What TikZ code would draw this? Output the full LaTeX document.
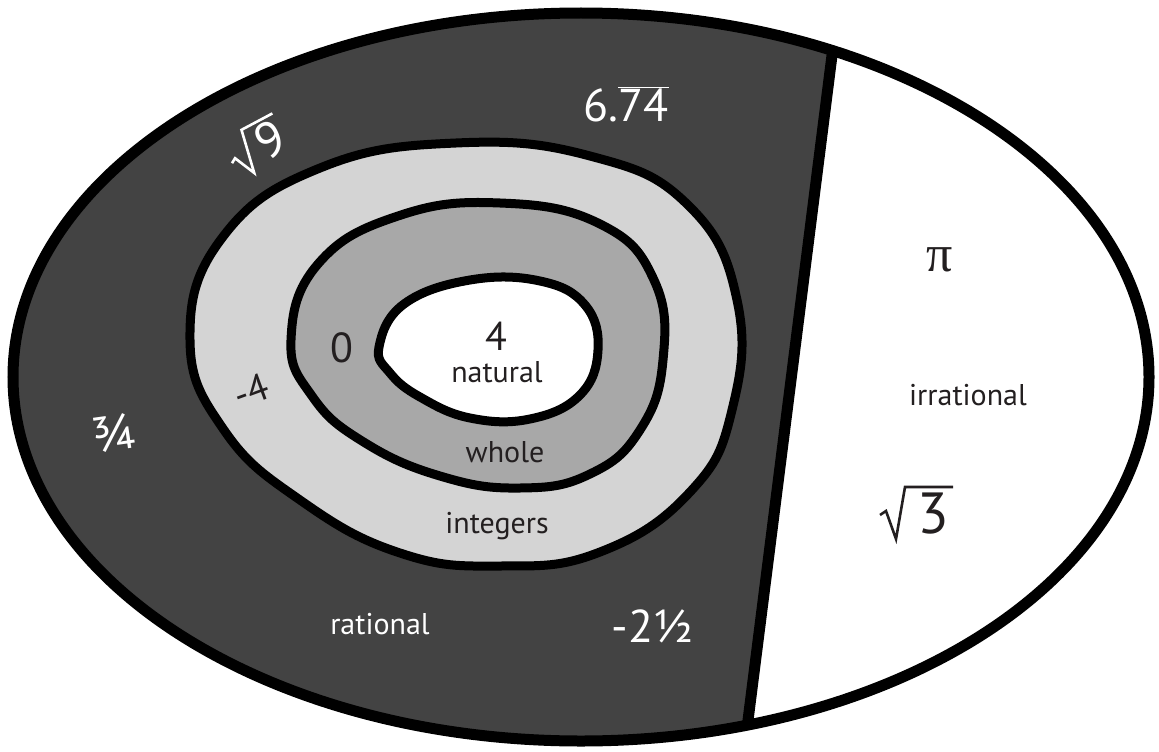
\documentclass[tikz,border=0pt]{standalone}
\usepackage{fontspec}
\setmainfont{PT Sans}
\newfontfamily\pifont{Liberation Serif}
\definecolor{darkfill}{RGB}{67,67,67}
\definecolor{lightfill}{RGB}{212,212,212}
\definecolor{midfill}{RGB}{168,168,168}
\definecolor{ink}{RGB}{35,31,32}
\tikzset{
  ring/.style={draw=black, line width=9pt},
  wlabel/.style={text=white, inner sep=0pt},
  blabel/.style={text=ink, inner sep=0pt},
  radical/.style={line width=2.6pt, line join=miter},
}
\begin{document}
\begin{tikzpicture}[x=1pt,y=-1pt]
\useasboundingbox (0,0) rectangle (1159,752);
\fill[white] (0,0) rectangle (1159,752);
\coordinate (c) at (581,377);
\coordinate (dtop) at (839,0);
\coordinate (dbot) at (744,752);
\begin{scope}
  \clip (c) ellipse [x radius=568, y radius=364];
  \fill[darkfill] (0,0) -- (dtop) -- (dbot) -- (0,752) -- cycle;
  \draw[line width=11pt] (dtop) -- (dbot);
\end{scope}
\draw[line width=11pt] (c) ellipse [x radius=568, y radius=364];
% integers
\draw[ring, fill=lightfill] plot[smooth cycle, tension=0.75] coordinates {
 (190,340) (222,238) (320,168) (456,143) (590,156) (688,205) (737,300)
 (732,410) (690,492) (600,552) (500,566) (400,553) (300,500) (224,430)};
% whole
\draw[ring, fill=midfill] plot[smooth cycle, tension=0.75] coordinates {
 (291,340) (318,264) (398,216) (500,203) (600,224) (654,280) (663,360)
 (640,430) (590,474) (520,488) (440,476) (362,441) (312,396)};
% natural
\draw[ring, fill=white] plot[smooth cycle, tension=0.7] coordinates {
 (379,347) (404,304) (470,280) (540,281) (585,305) (598,350) (580,395)
 (530,419) (470,418) (420,397) (390,373)};
% labels
\node[wlabel, font=\fontsize{46}{50}\selectfont] (d674) at (626,104) {6.$\overline{\hbox{74}}$};
\begin{scope}[shift={(258,146)}, rotate=28]
  \node[wlabel, rotate=28, font=\fontsize{50}{54}\selectfont] (nine) at (14,0) {9};
  \draw[white, radical] (-31,3) -- (-26,0) -- (-16,22) -- (-7,-22) -- (28,-22);
\end{scope}
\node[blabel, font=\fontsize{42}{46}\selectfont] (zero) at (342,348) {0};
\node[blabel, font=\fontsize{40}{44}\selectfont] (four) at (496,336) {4};
\node[blabel, font=\fontsize{30}{34}\selectfont] (nat) at (497,372) {natural};
\node[blabel, font=\fontsize{30}{34}\selectfont] (who) at (505,452) {whole};
\node[blabel, font=\fontsize{30}{34}\selectfont] (intg) at (497,526) {integers};
\node[blabel, rotate=20, font=\fontsize{38}{42}\selectfont] (m4) at (251,391) {-4};
\node[wlabel, rotate=8, font=\fontsize{50}{54}\selectfont] (tq) at (114,433) {¾};
\node[wlabel, font=\fontsize{30}{34}\selectfont] (rat) at (380,624) {rational};
\node[wlabel, font=\fontsize{46}{50}\selectfont] (m2h) at (652,626) {-2½};
\node[blabel, font=\fontsize{52}{56}\selectfont\pifont] (pi) at (940,260) {π};
\node[blabel, font=\fontsize{30}{34}\selectfont] (irr) at (968,395) {irrational};
\node[blabel, font=\fontsize{58}{62}\selectfont] (three) at (933,514) {3};
\draw[ink, radical] (880,515) -- (886,511) -- (896,539) -- (905,487) -- (953,487);
\end{tikzpicture}
\end{document}
